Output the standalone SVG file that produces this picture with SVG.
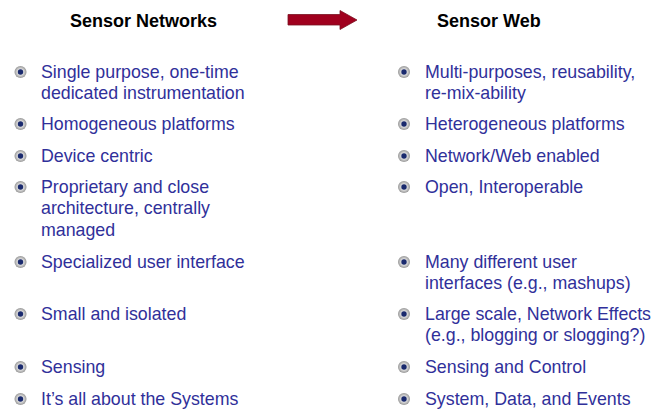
<svg xmlns="http://www.w3.org/2000/svg" width="652" height="410" viewBox="0 0 652 410">
<defs>
<radialGradient id="bg" cx="0.5" cy="0.5" r="0.5">
<stop offset="0" stop-color="#f6f6f6"/>
<stop offset="0.55" stop-color="#d8d8d8"/>
<stop offset="1" stop-color="#969696"/>
</radialGradient>
<g id="bullet">
<circle r="6" fill="url(#bg)"/>
<circle r="2.7" fill="#1a2a6e"/>
</g>
</defs>
<style>
.h{font-family:"Liberation Sans",Arial,sans-serif;font-weight:bold;font-size:18px;fill:#000}
.t{font-family:"Liberation Sans",Arial,sans-serif;font-size:17.8px;fill:#30309a}
</style>
<rect width="652" height="410" fill="#fff"/>
<g id="headings">
<text class="h" x="70" y="27">Sensor Networks</text>
<text class="h" x="437" y="27">Sensor Web</text>
</g>
<g id="connectors">
<polygon points="288,14.5 340,14.5 340,10.5 357,20 340,29.5 340,25 288,25" fill="#a0001e" stroke="#7a1020" stroke-width="0.8"/>
</g>
<g id="left">
<use href="#bullet" x="20.5" y="72"/><text class="t" x="41" y="78">Single purpose, one-time</text><text class="t" x="41" y="99">dedicated instrumentation</text>
<use href="#bullet" x="20.5" y="124"/><text class="t" x="41" y="130">Homogeneous platforms</text>
<use href="#bullet" x="20.5" y="156"/><text class="t" x="41" y="162">Device centric</text>
<use href="#bullet" x="20.5" y="187"/><text class="t" x="41" y="193">Proprietary and close</text><text class="t" x="41" y="214">architecture, centrally</text><text class="t" x="41" y="236">managed</text>
<use href="#bullet" x="20.5" y="262"/><text class="t" x="41" y="268">Specialized user interface</text>
<use href="#bullet" x="20.5" y="314"/><text class="t" x="41" y="320">Small and isolated</text>
<use href="#bullet" x="20.5" y="367"/><text class="t" x="41" y="373">Sensing</text>
<use href="#bullet" x="20.5" y="399"/><text class="t" x="41" y="405">It’s all about the Systems</text>
</g>
<g id="right">
<use href="#bullet" x="404" y="72"/><text class="t" x="425" y="78">Multi-purposes, reusability,</text><text class="t" x="425" y="99">re-mix-ability</text>
<use href="#bullet" x="404" y="124"/><text class="t" x="425" y="130">Heterogeneous platforms</text>
<use href="#bullet" x="404" y="156"/><text class="t" x="425" y="162">Network/Web enabled</text>
<use href="#bullet" x="404" y="187"/><text class="t" x="425" y="193">Open, Interoperable</text>
<use href="#bullet" x="404" y="262"/><text class="t" x="425" y="268">Many different user</text><text class="t" x="425" y="289">interfaces (e.g., mashups)</text>
<use href="#bullet" x="404" y="314"/><text class="t" x="425" y="320">Large scale, Network Effects</text><text class="t" x="425" y="341">(e.g., blogging or slogging?)</text>
<use href="#bullet" x="404" y="367"/><text class="t" x="425" y="373">Sensing and Control</text>
<use href="#bullet" x="404" y="399"/><text class="t" x="425" y="405">System, Data, and Events</text>
</g>
</svg>
